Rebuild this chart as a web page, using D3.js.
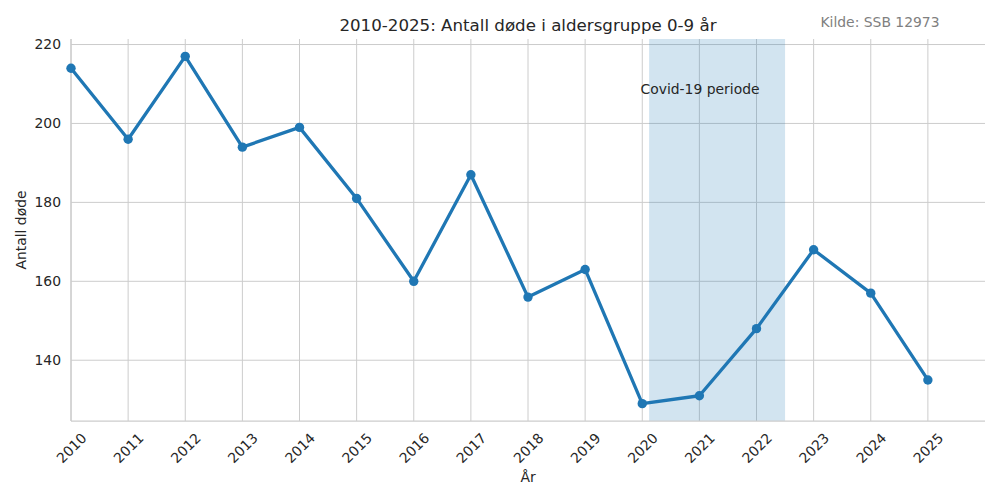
<!DOCTYPE html>
<html><head><meta charset="utf-8">
<script src="https://cdn.jsdelivr.net/npm/d3@7"></script>
<style>body{margin:0;background:#fff;font-family:"DejaVu Sans",sans-serif;}</style>
</head><body><svg id="c" width="1000" height="500"></svg>
<script>
const years = [2010,2011,2012,2013,2014,2015,2016,2017,2018,2019,2020,2021,2022,2023,2024,2025];
const deaths = [214,196,217,194,199,181,160,187,156,163,129,131,148,168,157,135];
const yTicks = [140,160,180,200,220];
const covidPeriod = [2020.12, 2022.5];
const xDomain = [2010, 2026];
const yDomain = [124.6, 221.4];

const svg = d3.select("#c");
const m = {left:71, right:985, top:39, bottom:421};
const x = d3.scaleLinear().domain(xDomain).range([m.left, m.right]);
const y = d3.scaleLinear().domain(yDomain).range([m.bottom, m.top]);
const txt = "#262626", grid = "#cccccc";
const fs = "13.9px";

// grid
svg.append("g").selectAll("line").data(years).join("line")
  .attr("x1", d=>x(d)).attr("x2", d=>x(d)).attr("y1", m.top).attr("y2", m.bottom)
  .attr("stroke", grid).attr("stroke-width", 1);
svg.append("g").selectAll("line").data(yTicks).join("line")
  .attr("x1", m.left).attr("x2", m.right).attr("y1", d=>y(d)).attr("y2", d=>y(d))
  .attr("stroke", grid).attr("stroke-width", 1);

// covid span
svg.append("rect").attr("x", x(covidPeriod[0])).attr("y", m.top)
  .attr("width", x(covidPeriod[1]) - x(covidPeriod[0])).attr("height", m.bottom - m.top)
  .attr("fill", "#1f77b4").attr("fill-opacity", 0.2);

// spines
svg.append("line").attr("x1", m.left).attr("x2", m.left).attr("y1", m.top).attr("y2", m.bottom)
  .attr("stroke", grid).attr("stroke-width", 1.25);
svg.append("line").attr("x1", m.left).attr("x2", m.right).attr("y1", m.bottom).attr("y2", m.bottom)
  .attr("stroke", grid).attr("stroke-width", 1.25);

// axes labels
const yAxis = d3.axisLeft(y).tickValues(yTicks).tickSize(0).tickPadding(10);
const gy = svg.append("g").attr("transform", `translate(${m.left},0)`).call(yAxis);
gy.select(".domain").remove();
gy.selectAll("text").attr("fill", txt).style("font-size", fs).style("font-family", "DejaVu Sans");

const xAxis = d3.axisBottom(x).tickValues(years).tickFormat(d3.format("d")).tickSize(0).tickPadding(0);
const gx = svg.append("g").attr("transform", `translate(0,${m.bottom})`).call(xAxis);
gx.select(".domain").remove();
gx.selectAll("text").attr("fill", txt).style("font-size", fs).style("font-family", "DejaVu Sans")
  .attr("text-anchor", "middle").attr("y", 0).attr("dy", "0.35em")
  .attr("transform", "translate(0,27) rotate(-45)");

// line
const line = d3.line().x((d,i)=>x(years[i])).y(d=>y(d));
svg.append("path").datum(deaths).attr("d", line).attr("fill", "none")
  .attr("stroke", "#1f77b4").attr("stroke-width", 3.3).attr("stroke-linejoin", "round");
svg.append("g").selectAll("circle").data(deaths).join("circle")
  .attr("cx", (d,i)=>x(years[i])).attr("cy", d=>y(d)).attr("r", 4.7).attr("fill", "#1f77b4");

// texts
svg.append("text").attr("x", (m.left+m.right)/2).attr("y", 31).attr("text-anchor", "middle")
  .attr("fill", txt).style("font-size", "16.67px").text("2010-2025: Antall døde i aldersgruppe 0-9 år");
svg.append("text").attr("x", 880).attr("y", 27).attr("text-anchor", "middle")
  .attr("fill", "#808080").style("font-size", fs).text("Kilde: SSB 12973");
svg.append("text").attr("x", 700).attr("y", 94).attr("text-anchor", "middle")
  .attr("fill", txt).style("font-size", fs).text("Covid-19 periode");
svg.append("text").attr("x", (m.left+m.right)/2).attr("y", 482).attr("text-anchor", "middle")
  .attr("fill", txt).style("font-size", fs).text("År");
svg.append("text").attr("transform", `translate(26,${(m.top+m.bottom)/2}) rotate(-90)`).attr("text-anchor", "middle")
  .attr("fill", txt).style("font-size", fs).text("Antall døde");
</script></body></html>
